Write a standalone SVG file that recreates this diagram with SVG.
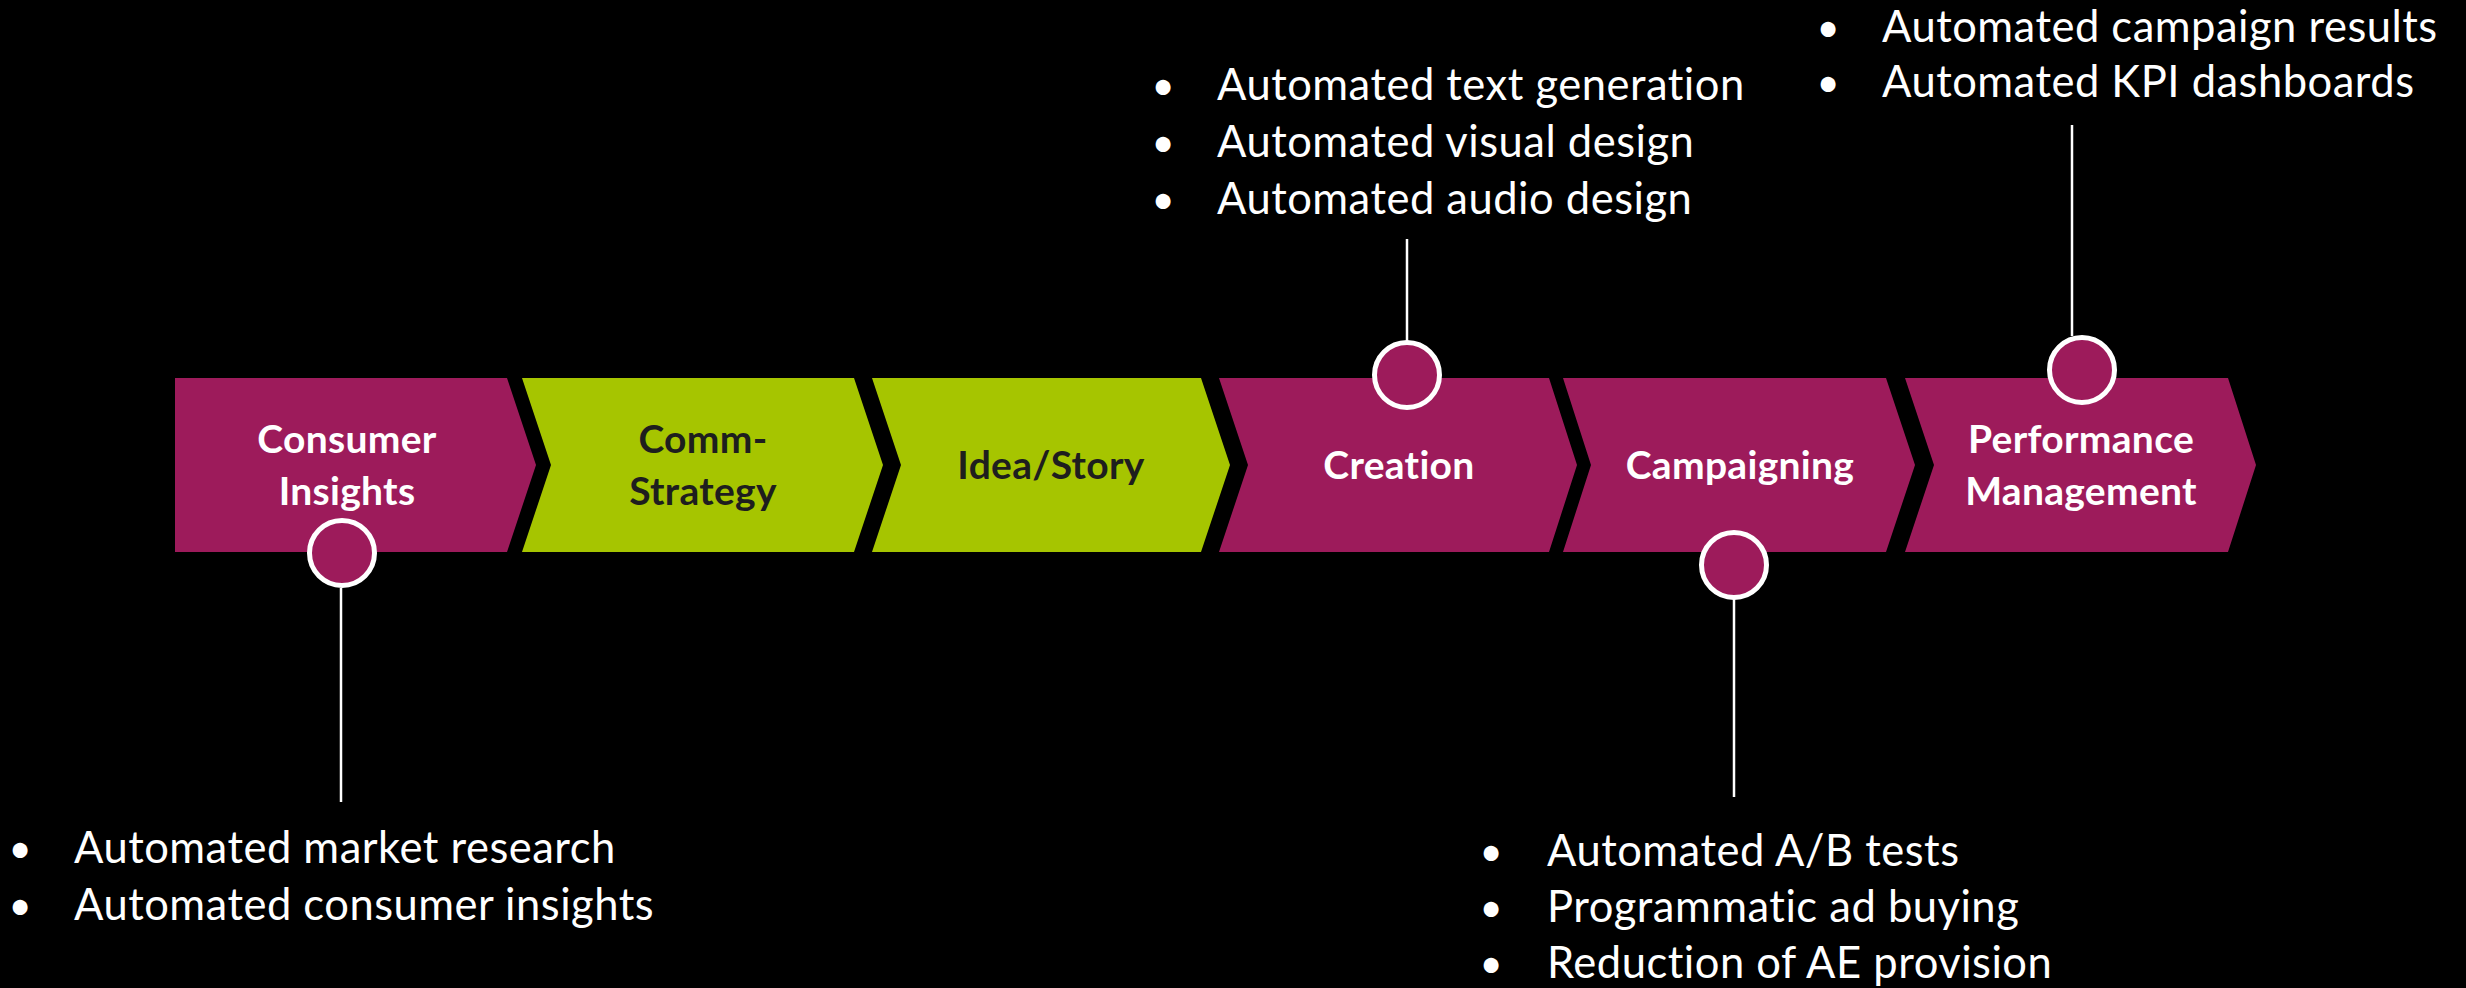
<svg xmlns="http://www.w3.org/2000/svg" width="2466" height="988" viewBox="0 0 2466 988">
<style>
.pur{fill:#9D1B5B}
.grn{fill:#A6C500}
.lbl{font-family:Lato,"Liberation Sans",sans-serif;font-weight:bold;font-size:39px;letter-spacing:0.3px;text-anchor:middle}
.lw{fill:#FFFFFF}
.ld{fill:#1E1E1E}
.dot{fill:#9D1B5B;stroke:#FFFFFF;stroke-width:5}
.bl{font-family:Lato,"Liberation Sans",sans-serif;font-size:43.5px;letter-spacing:0.5px;fill:#FFFFFF}
.bu{font-family:Lato,"Liberation Sans",sans-serif;font-size:40px;fill:#FFFFFF;text-anchor:middle}
.con{stroke:#FFFFFF;stroke-width:2.5;fill:none}
</style>
<rect width="2466" height="988" fill="#000000"/>
<g id="connectors">
<line class="con" x1="341" y1="588" x2="341" y2="802"/>
<line class="con" x1="1407" y1="239" x2="1407" y2="341"/>
<line class="con" x1="1734" y1="598" x2="1734" y2="797"/>
<line class="con" x1="2072" y1="125" x2="2072" y2="336"/>
</g>
<g id="consumer-insights">
<polygon class="pur" points="175,378 507,378 536,465 507,552 175,552"/>
<text class="lbl lw" x="347" y="453">Consumer</text>
<text class="lbl lw" x="347" y="505">Insights</text>
</g>
<g id="comm-strategy">
<polygon class="grn" points="522,378 854,378 883,465 854,552 522,552 551,465"/>
<text class="lbl ld" x="703" y="453">Comm-</text>
<text class="lbl ld" x="703" y="505">Strategy</text>
</g>
<g id="idea-story">
<polygon class="grn" points="872,378 1201,378 1230,465 1201,552 872,552 901,465"/>
<text class="lbl ld" x="1051" y="479">Idea/Story</text>
</g>
<g id="creation">
<polygon class="pur" points="1219,378 1549,378 1577,465 1549,552 1219,552 1248,465"/>
<text class="lbl lw" x="1399" y="479">Creation</text>
</g>
<g id="campaigning">
<polygon class="pur" points="1563,378 1886,378 1915,465 1886,552 1563,552 1591,465"/>
<text class="lbl lw" x="1740" y="479">Campaigning</text>
</g>
<g id="performance-management">
<polygon class="pur" points="1905,378 2228,378 2256,465 2228,552 1905,552 1934,465"/>
<text class="lbl lw" x="2081" y="453">Performance</text>
<text class="lbl lw" x="2081" y="505">Management</text>
</g>
<g id="dot-consumer"><circle class="dot" cx="342" cy="553" r="32.5"/></g>
<g id="dot-creation"><circle class="dot" cx="1407" cy="375" r="32.5"/></g>
<g id="dot-campaigning"><circle class="dot" cx="1734" cy="565" r="32.5"/></g>
<g id="dot-performance"><circle class="dot" cx="2082" cy="370" r="32.5"/></g>
<g id="list-consumer">
<text class="bu" x="20" y="863">•</text><text class="bl" x="74" y="863">Automated market research</text>
<text class="bu" x="20" y="920">•</text><text class="bl" x="74" y="920">Automated consumer insights</text>
</g>
<g id="list-creation">
<text class="bu" x="1163" y="100">•</text><text class="bl" x="1217" y="100">Automated text generation</text>
<text class="bu" x="1163" y="157">•</text><text class="bl" x="1217" y="157">Automated visual design</text>
<text class="bu" x="1163" y="214">•</text><text class="bl" x="1217" y="214">Automated audio design</text>
</g>
<g id="list-campaigning">
<text class="bu" x="1491" y="866">•</text><text class="bl" x="1547" y="866">Automated A/B tests</text>
<text class="bu" x="1491" y="922">•</text><text class="bl" x="1547" y="922">Programmatic ad buying</text>
<text class="bu" x="1491" y="978">•</text><text class="bl" x="1547" y="978">Reduction of AE provision</text>
</g>
<g id="list-performance">
<text class="bu" x="1828" y="42">•</text><text class="bl" x="1882" y="42">Automated campaign results</text>
<text class="bu" x="1828" y="97">•</text><text class="bl" x="1882" y="97">Automated KPI dashboards</text>
</g>
</svg>
